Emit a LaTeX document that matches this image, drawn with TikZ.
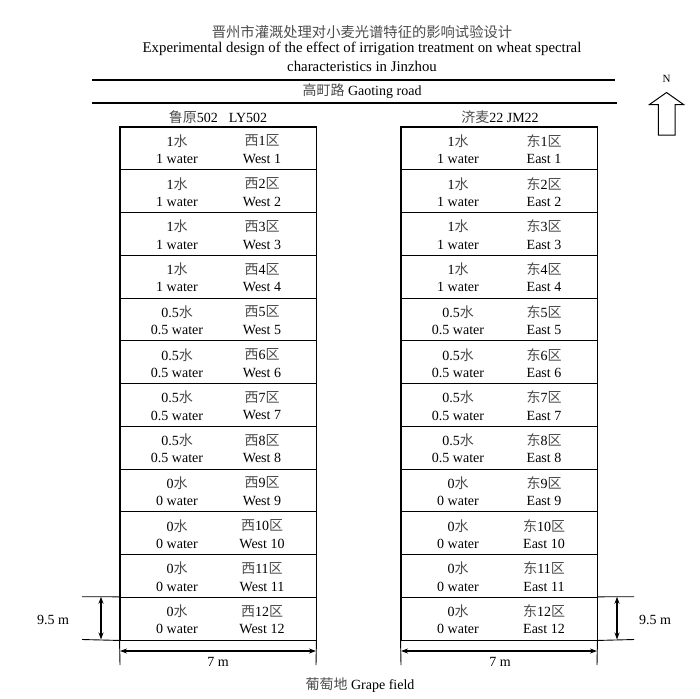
\documentclass[tikz,border=0pt]{standalone}
\usepackage{fontspec}
\setmainfont{Liberation Serif}
\newfontfamily\cjk{Noto Sans CJK SC}
\usetikzlibrary{arrows.meta}
\newcommand{\zhc}[1]{{\cjk\color{black!70}#1}}
\tikzset{
  txt/.style={inner sep=0pt, font=\fontsize{14}{16}\selectfont, text=black},
  ttl/.style={inner sep=0pt, font=\fontsize{14.8}{17}\selectfont, text=black},
  zh/.style={inner sep=0pt, font=\fontsize{14.3}{17}\cjk, text=black!70},
  cell/.style={draw=black, line width=0.9pt, minimum width=196pt, minimum height=42.75pt, inner sep=0pt},
  frame/.style={draw=black, line width=1.6pt},
  road/.style={draw=black, line width=1.3pt},
  dimline/.style={draw=black, line width=0.9pt},
  dimarrow/.style={draw=black, line width=1.1pt, {Stealth[length=7pt,width=5pt]}-{Stealth[length=7pt,width=5pt]}},
  northarrow/.style={draw=black, line width=1pt, line join=miter}
}
\begin{document}
\begin{tikzpicture}[x=1pt,y=-1pt]
\useasboundingbox (0,0) rectangle (700,698);
% titles
\node[zh] (t1) at (362,32) {晋州市灌溉处理对小麦光谱特征的影响试验设计};
\node[ttl] (t2) at (362,49) {Experimental design of the effect of irrigation treatment on wheat spectral};
\node[ttl] (t3) at (362,66) {characteristics in Jinzhou};
% road
\coordinate (r1a) at (92,80); \coordinate (r1b) at (615,80);
\coordinate (r2a) at (92,103); \coordinate (r2b) at (617,103);
\draw[road] (r1a) -- (r1b);
\draw[road] (r2a) -- (r2b);
\node[txt] (road) at (362,91.5) {\zhc{高町路} Gaoting road};
% north arrow
\node[inner sep=0pt, font=\fontsize{11}{12}\selectfont] (N) at (666.5,79) {N};
\coordinate (na) at (666.5,92.5);
\coordinate (nb) at (683.5,104.5);
\coordinate (nc) at (675,104.5);
\coordinate (nd) at (675,135);
\coordinate (ne) at (658.3,135);
\coordinate (nf) at (658.3,104.5);
\coordinate (ng) at (649.5,104.5);
\draw[northarrow] (na) -- (nb) -- (nc) -- (nd) -- (ne) -- (nf) -- (ng) -- cycle;
% variety labels
\node[txt] (vL) at (218,117) {\zhc{鲁原}502\hspace{0.8em}LY502};
\node[txt] (vR) at (500,117) {\zhc{济麦}22 JM22};
% rows
\foreach \i in {1,...,12}{
  \pgfmathsetmacro{\top}{127+(\i-1)*42.75}
  \pgfmathtruncatemacro{\grp}{(\i-1)/4}
  \ifcase\grp
    \def\wz{1}\def\we{1}
  \or
    \def\wz{0.5}\def\we{0.5}
  \else
    \def\wz{0}\def\we{0}
  \fi
  \node[cell] (L\i) at (218,\top+21.375) {};
  \node[cell] (R\i) at (499,\top+21.375) {};
  \node[txt] (Lwz\i) at (177,\top+14) {\wz\zhc{水}};
  \node[txt] (Lwe\i) at (177,\top+32) {\we\ water};
  \node[txt] (Lpz\i) at (262,\top+14) {\zhc{西}\i\zhc{区}};
  \node[txt] (Lpe\i) at (262,\top+32) {West \i};
  \node[txt] (Rwz\i) at (458,\top+14) {\wz\zhc{水}};
  \node[txt] (Rwe\i) at (458,\top+32) {\we\ water};
  \node[txt] (Rpz\i) at (544,\top+14) {\zhc{东}\i\zhc{区}};
  \node[txt] (Rpe\i) at (544,\top+32) {East \i};
}
% outer frames
\draw[frame] (L1.north west) rectangle (L12.south east);
\draw[frame] (R1.north west) rectangle (R12.south east);
% height dimension left
\coordinate (hl1) at (82,596.75); \coordinate (hl2) at (82,639.5);
\draw[dimline] (hl1) -- (L12.north west);
\draw[dimline] (hl2) -- (L12.south west);
\coordinate (hla) at (101,596.75); \coordinate (hlb) at (101,639.5);
\draw[dimarrow] (hla) -- (hlb);
\node[txt] (hlt) at (53,620) {9.5 m};
% height dimension right
\coordinate (hr1) at (634,596.75); \coordinate (hr2) at (634,639.5);
\draw[dimline] (R12.north east) -- (hr1);
\draw[dimline] (R12.south east) -- (hr2);
\coordinate (hra) at (617,596.75); \coordinate (hrb) at (617,639.5);
\draw[dimarrow] (hra) -- (hrb);
\node[txt] (hrt) at (655,620) {9.5 m};
% width dimensions
\coordinate (wl1) at (120,665); \coordinate (wl2) at (316,665);
\draw[dimline] (L12.south west) -- (wl1);
\draw[dimline] (L12.south east) -- (wl2);
\coordinate (wla) at (120,651); \coordinate (wlb) at (316,651);
\draw[dimarrow] (wla) -- (wlb);
\node[txt] (wlt) at (218,662) {7 m};
\coordinate (wr1) at (401,665); \coordinate (wr2) at (597,665);
\draw[dimline] (R12.south west) -- (wr1);
\draw[dimline] (R12.south east) -- (wr2);
\coordinate (wra) at (401,651); \coordinate (wrb) at (597,651);
\draw[dimarrow] (wra) -- (wrb);
\node[txt] (wrt) at (500,662) {7 m};
% bottom label
\node[txt] (grape) at (360,685) {\zhc{葡萄地} Grape field};
\end{tikzpicture}
\end{document}
